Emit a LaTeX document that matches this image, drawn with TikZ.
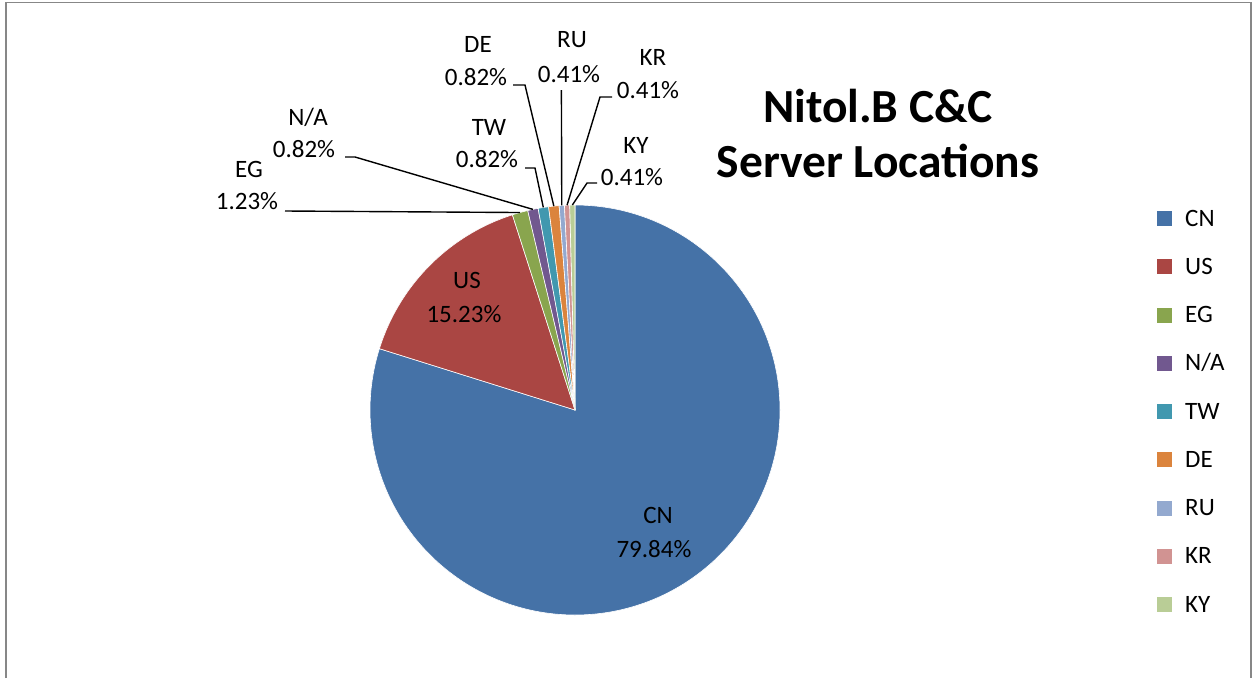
\documentclass[tikz,border=0pt]{standalone}
\usepackage{fontspec}
\setmainfont{Carlito}
\definecolor{cCN}{HTML}{4572A7}
\definecolor{cUS}{HTML}{AA4643}
\definecolor{cEG}{HTML}{89A54E}
\definecolor{cNA}{HTML}{71588F}
\definecolor{cTW}{HTML}{4198AF}
\definecolor{cDE}{HTML}{DB843D}
\definecolor{cRU}{HTML}{93A9CF}
\definecolor{cKR}{HTML}{D19392}
\definecolor{cKY}{HTML}{B9CD96}
\definecolor{frameGray}{HTML}{878787}
\begin{document}
\begin{tikzpicture}[x=1pt,y=-1pt,
  lbl/.style={inner sep=0pt, font=\fontsize{25}{32}\selectfont, anchor=base},
  legtext/.style={inner sep=0pt, font=\fontsize{25}{32}\selectfont, anchor=base west},
  ttl/.style={inner sep=0pt, font=\fontsize{47.5}{55}\selectfont\bfseries, anchor=base},
  lead/.style={draw=black, line width=1.4pt},
  sl/.style={draw=white, line width=0.6pt, line join=round},
  key/.style={minimum size=15pt, inner sep=0pt, outer sep=0pt, anchor=north west},
  frame/.style={draw=frameGray, line width=1.6pt}]
\useasboundingbox (0,0) rectangle (1254,678);
\draw[frame] (6,678) -- (6,2.5) -- (1251,2.5) -- (1251,678);

% pie
\begin{scope}[shift={(575,410)}, yscale=-1]
  \filldraw[sl, fill=cCN] (0,0) -- (90:205) arc[start angle=90, end angle=-197.407, radius=205] -- cycle;
  \filldraw[sl, fill=cUS] (0,0) -- (-197.407:205) arc[start angle=-197.407, end angle=-252.222, radius=205] -- cycle;
  \filldraw[sl, fill=cEG] (0,0) -- (-252.222:205) arc[start angle=-252.222, end angle=-256.667, radius=205] -- cycle;
  \filldraw[sl, fill=cNA] (0,0) -- (-256.667:205) arc[start angle=-256.667, end angle=-259.630, radius=205] -- cycle;
  \filldraw[sl, fill=cTW] (0,0) -- (-259.630:205) arc[start angle=-259.630, end angle=-262.593, radius=205] -- cycle;
  \filldraw[sl, fill=cDE] (0,0) -- (-262.593:205) arc[start angle=-262.593, end angle=-265.556, radius=205] -- cycle;
  \filldraw[sl, fill=cRU] (0,0) -- (-265.556:205) arc[start angle=-265.556, end angle=-267.037, radius=205] -- cycle;
  \filldraw[sl, fill=cKR] (0,0) -- (-267.037:205) arc[start angle=-267.037, end angle=-268.519, radius=205] -- cycle;
  \filldraw[sl, fill=cKY] (0,0) -- (-268.519:205) arc[start angle=-268.519, end angle=-270, radius=205] -- cycle;
  \coordinate (pEG) at (105.556:205);
  \coordinate (pNA) at (101.852:205);
  \coordinate (pTW) at (98.889:205);
  \coordinate (pDE) at (95.926:205);
  \coordinate (pRU) at (93.704:205);
  \coordinate (pKR) at (92.222:205);
  \coordinate (pKY) at (90.741:205);
\end{scope}

% labels
\node[lbl] (CNa) at (658,523) {CN};
\node[lbl] (CNb) at (654,557) {79.84\%};
\node[lbl] (USa) at (467,288) {US};
\node[lbl] (USb) at (464,322) {15.23\%};
\node[lbl] (EGa) at (249,177) {EG};
\node[lbl] (EGb) at (247,209) {1.23\%};
\node[lbl] (NAa) at (308,125) {N/A};
\node[lbl] (NAb) at (304,157) {0.82\%};
\node[lbl] (TWa) at (489,135) {TW};
\node[lbl] (TWb) at (487,167) {0.82\%};
\node[lbl] (DEa) at (478,52) {DE};
\node[lbl] (DEb) at (476,85) {0.82\%};
\node[lbl] (RUa) at (572,47) {RU};
\node[lbl] (RUb) at (569,82) {0.41\%};
\node[lbl] (KRa) at (653,65) {KR};
\node[lbl] (KRb) at (648,98) {0.41\%};
\node[lbl] (KYa) at (636,153) {KY};
\node[lbl] (KYb) at (632,185) {0.41\%};

% leader lines
\coordinate (lEG) at (285,211);
\coordinate (lNA) at (345,157);
\coordinate (lNAk) at (355,157);
\coordinate (lTW) at (525,168);
\coordinate (lTWk) at (535,168);
\coordinate (lDE) at (513,85);
\coordinate (lDEk) at (525,85);
\coordinate (lRU) at (561.4,90);
\coordinate (lKR) at (612,97);
\coordinate (lKRk) at (600,97);
\coordinate (lKY) at (597,183);
\coordinate (lKYk) at (587,183);
\draw[lead] (lEG) -- (pEG);
\draw[lead] (lNA) -- (lNAk) -- (pNA);
\draw[lead] (lTW) -- (lTWk) -- (pTW);
\draw[lead] (lDE) -- (lDEk) -- (pDE);
\draw[lead] (lRU) -- (pRU);
\draw[lead] (lKR) -- (lKRk) -- (pKR);
\draw[lead] (lKY) -- (lKYk) -- (pKY);

% title
\node[ttl] (title1) at (878,122) {Nitol.B C\&C};
\node[ttl] (title2) at (878,177) {Server Locations};

% legend
\node[key, fill=cCN] (kCN) at (1157,211) {};
\node[key, fill=cUS] (kUS) at (1157,259.25) {};
\node[key, fill=cEG] (kEG) at (1157,307.5) {};
\node[key, fill=cNA] (kNA) at (1157,355.75) {};
\node[key, fill=cTW] (kTW) at (1157,404) {};
\node[key, fill=cDE] (kDE) at (1157,452.25) {};
\node[key, fill=cRU] (kRU) at (1157,500.5) {};
\node[key, fill=cKR] (kKR) at (1157,548.75) {};
\node[key, fill=cKY] (kKY) at (1157,597) {};
\node[legtext] (tCN) at (1185,226) {CN};
\node[legtext] (tUS) at (1185,274.25) {US};
\node[legtext] (tEG) at (1185,322.5) {EG};
\node[legtext] (tNA) at (1185,370.75) {N/A};
\node[legtext] (tTW) at (1185,419) {TW};
\node[legtext] (tDE) at (1185,467.25) {DE};
\node[legtext] (tRU) at (1185,515.5) {RU};
\node[legtext] (tKR) at (1185,563.75) {KR};
\node[legtext] (tKY) at (1185,612) {KY};
\end{tikzpicture}
\end{document}
